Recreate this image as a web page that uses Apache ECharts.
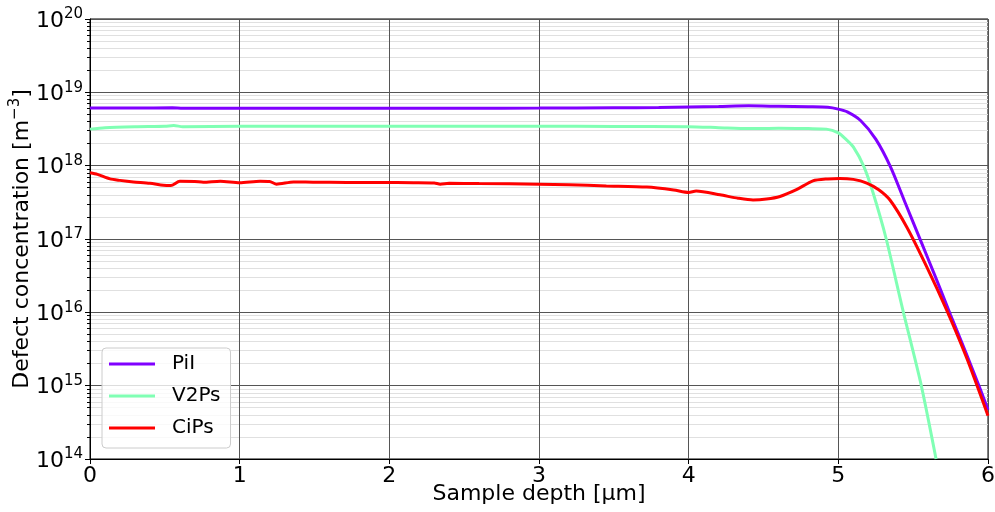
<!DOCTYPE html>
<html>
<head>
<meta charset="utf-8">
<script src="https://cdn.jsdelivr.net/npm/echarts@6/dist/echarts.min.js"></script>
<style>
  html, body { margin: 0; padding: 0; background: #fff; }
  #chart { width: 995px; height: 512px; }
</style>
</head>
<body>
<div id="chart"></div>
<script>
// Depth profiles of defect concentrations (depth in µm, concentration in m^-3)
const depthPiI = [0, 0.3, 0.55, 0.62, 1.0, 1.5, 2.0, 2.5, 3.0, 3.5, 3.8, 4.0, 4.2, 4.4, 4.6, 4.8, 4.93, 5.0, 5.06, 5.15, 5.25, 5.35, 5.45, 5.55, 5.65, 5.75, 5.85, 5.95, 6.0];
const valuesPiI = [6.1e18, 6.1e18, 6.15e18, 6.05e18, 6.05e18, 6.05e18, 6.05e18, 6.08e18, 6.1e18, 6.15e18, 6.2e18, 6.3e18, 6.4e18, 6.55e18, 6.45e18, 6.35e18, 6.25e18, 5.9e18, 5.4e18, 4.1e18, 2.3e18, 9.5e17, 3.0e17, 9.5e16, 3.0e16, 9.2e15, 2.9e15, 8.8e14, 4.7e14];

const depthV2Ps = [0, 0.1, 0.3, 0.5, 0.56, 0.62, 1.0, 1.5, 2.0, 2.5, 3.0, 3.5, 4.0, 4.2, 4.4, 4.6, 4.8, 4.92, 5.0, 5.05, 5.1, 5.17, 5.23, 5.32, 5.43, 5.55, 5.653];
const valuesV2Ps = [3.15e18, 3.3e18, 3.4e18, 3.45e18, 3.52e18, 3.4e18, 3.45e18, 3.45e18, 3.45e18, 3.45e18, 3.45e18, 3.42e18, 3.4e18, 3.3e18, 3.2e18, 3.25e18, 3.2e18, 3.15e18, 2.8e18, 2.3e18, 1.8e18, 9.8e17, 4.4e17, 1.0e17, 1.1e16, 1.1e15, 1.0e14];

const depthCiPs = [0, 0.05, 0.134, 0.2, 0.29, 0.4, 0.49, 0.54, 0.6, 0.7, 0.757, 0.87, 1.0, 1.136, 1.2, 1.247, 1.36, 1.49, 1.715, 1.94, 2.16, 2.3, 2.34, 2.4, 2.6, 3.0, 3.2, 3.45, 3.72, 3.9, 4.0, 4.05, 4.21, 4.33, 4.43, 4.52, 4.61, 4.72, 4.83, 4.93, 5.01, 5.1, 5.19, 5.27, 5.345, 5.456, 5.59, 5.724, 5.857, 6.0];
const valuesCiPs = [8.0e17, 7.6e17, 6.6e17, 6.3e17, 6.0e17, 5.75e17, 5.4e17, 5.35e17, 6.15e17, 6.1e17, 5.95e17, 6.15e17, 5.85e17, 6.15e17, 6.1e17, 5.6e17, 6.0e17, 5.95e17, 5.9e17, 5.9e17, 5.85e17, 5.8e17, 5.6e17, 5.75e17, 5.7e17, 5.6e17, 5.5e17, 5.3e17, 5.1e17, 4.65e17, 4.3e17, 4.5e17, 4.0e17, 3.6e17, 3.4e17, 3.5e17, 3.8e17, 4.7e17, 6.2e17, 6.6e17, 6.7e17, 6.5e17, 5.8e17, 4.7e17, 3.4e17, 1.47e17, 4.2e16, 1.07e16, 2.4e15, 3.9e14];

const seriesNames = ['PiI', 'V2Ps', 'CiPs'];
const seriesColors = ['#8000ff', '#80ffb4', '#ff0000'];

const xTickLabels = [0, 1, 2, 3, 4, 5, 6];
const yMinExp = 14;
const yMaxExp = 20;

// Minor positions 2..9 × 10^n inside the visible decades
const minorValues = [];
for (let e = yMinExp; e < yMaxExp; e++) {
  for (let k = 2; k <= 9; k++) minorValues.push(k * Math.pow(10, e));
}

const FONT = 'DejaVu Sans';
const pair = (xs, ys) => xs.map((x, i) => [x, ys[i]]);

const chart = echarts.init(document.getElementById('chart'), null, { renderer: 'canvas' });

const lineSeries = [
  pair(depthPiI, valuesPiI),
  pair(depthV2Ps, valuesV2Ps),
  pair(depthCiPs, valuesCiPs)
].map((data, i) => ({
  name: seriesNames[i],
  type: 'line',
  data: data,
  showSymbol: false,
  smooth: 0.25,
  lineStyle: { width: 3, color: seriesColors[i] },
  itemStyle: { color: seriesColors[i] },
  z: 4 + i,
  animation: false
}));

// Light minor grid lines drawn beneath the major grid and the curves
lineSeries[0].markLine = {
  silent: true,
  z: 1,
  symbol: ['none', 'none'],
  label: { show: false },
  lineStyle: { color: '#e0e0e0', width: 1, type: 'solid' },
  emphasis: { disabled: true },
  animation: false,
  data: minorValues.map(v => ({ yAxis: v }))
};

chart.setOption({
  animation: false,
  backgroundColor: '#fff',
  grid: {
    left: 90, right: 7, top: 19, bottom: 53,
    outerBoundsMode: 'none',
    containLabel: false,
    show: true, borderColor: '#000', borderWidth: 1, backgroundColor: 'transparent'
  },
  legend: {
    data: seriesNames,
    orient: 'vertical',
    left: 102,
    top: 348,
    padding: [6, 10, 10, 7],
    itemGap: 12,
    itemWidth: 46,
    itemHeight: 3,
    icon: 'rect',
    backgroundColor: 'rgba(255,255,255,0.8)',
    borderColor: '#cccccc',
    borderWidth: 1,
    borderRadius: 4,
    textStyle: { fontFamily: FONT, fontSize: 20, color: '#000', lineHeight: 20, padding: [0, 0, 0, 12] }
  },
  xAxis: {
    type: 'value',
    z: 2,
    min: xTickLabels[0],
    max: xTickLabels[xTickLabels.length - 1],
    interval: 1,
    axisLine: { show: true, onZero: false, lineStyle: { color: '#000', width: 1 } },
    axisTick: { show: true, inside: false, length: 5, lineStyle: { color: '#000' } },
    axisLabel: { fontFamily: FONT, fontSize: 22, color: '#000', margin: 6 },
    splitLine: { show: true, lineStyle: { color: '#555', width: 1 } },
    name: 'Sample depth [μm]',
    nameLocation: 'middle',
    nameGap: 24,
    nameMoveOverlap: false,
    nameTextStyle: { fontFamily: FONT, fontSize: 22, color: '#000' }
  },
  yAxis: [
    {
      type: 'log',
      z: 2,
      logBase: 10,
      min: Math.pow(10, yMinExp),
      max: Math.pow(10, yMaxExp),
      interval: 1,
      splitNumber: yMaxExp - yMinExp,
      axisLine: { show: true, lineStyle: { color: '#000', width: 1 } },
      axisTick: { show: true, inside: false, length: 5, lineStyle: { color: '#000' } },
      axisLabel: {
        margin: 7,
        padding: [4, 0, 0, 0],
        formatter: v => '{b|10}{s|' + Math.round(Math.log10(v)) + '}',
        rich: {
          b: { fontFamily: FONT, fontSize: 22, color: '#000', lineHeight: 28 },
          s: { fontFamily: FONT, fontSize: 15, color: '#000', lineHeight: 15, verticalAlign: 'top' }
        }
      },
      splitLine: { show: true, lineStyle: { color: '#555', width: 1 } },
      name: 'Defect concentration [m{s|−3}]',
      nameLocation: 'middle',
      nameRotate: 90,
      nameGap: 54,
      nameMoveOverlap: false,
      nameTextStyle: {
        fontFamily: FONT, fontSize: 22, color: '#000', lineHeight: 28,
        rich: { s: { fontFamily: FONT, fontSize: 15, color: '#000', lineHeight: 15, verticalAlign: 'top' } }
      }
    },
    {
      // minor ticks along the left spine
      type: 'log',
      z: 2,
      logBase: 10,
      min: Math.pow(10, yMinExp),
      max: Math.pow(10, yMaxExp),
      position: 'left',
      offset: 0,
      axisLine: { show: false },
      axisLabel: { show: false },
      splitLine: { show: false },
      axisTick: { show: true, inside: false, length: 3, customValues: minorValues, lineStyle: { color: '#000' } }
    }
  ],
  series: lineSeries
});
</script>
</body>
</html>
